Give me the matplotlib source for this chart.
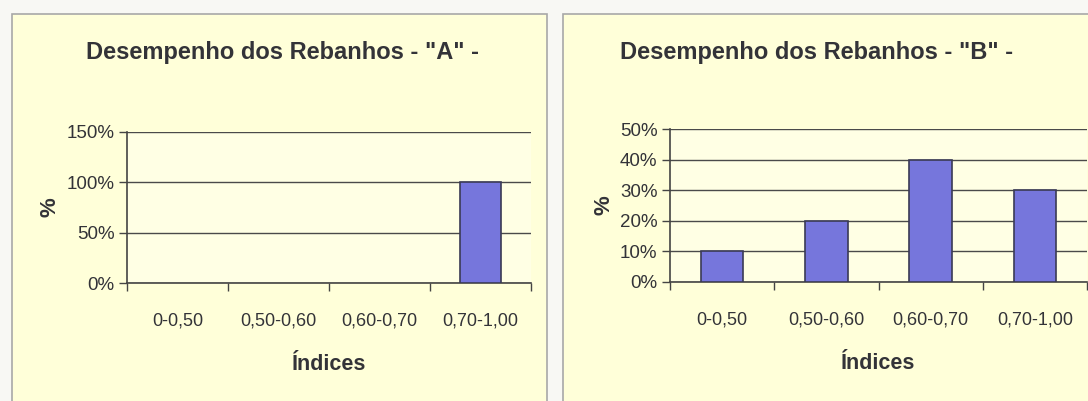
import matplotlib.pyplot as plt
from matplotlib.patches import Rectangle
from matplotlib.ticker import FuncFormatter, MultipleLocator

plt.rcParams['font.family'] = ['Liberation Sans Narrow', 'Liberation Sans', 'DejaVu Sans']

# Distribution of herds by index range (percent)
indices = ["0-0,50", "0,50-0,60", "0,60-0,70", "0,70-1,00"]
rebanho_a = [0, 0, 0, 100]
rebanho_b = [10, 20, 40, 30]

W, H = 1088, 401
PAGE = "#f8f8f4"
PANEL = "#ffffd9"
PLOT_BG = "#ffffe4"
BAR = "#7676dc"
TEXT = "#333338"

fig = plt.figure(figsize=(W / 100, H / 100), dpi=100)
fig.patch.set_facecolor(PAGE)


def px_box(x0, y0, x1, y1):
    # pixel box (top-left origin) -> figure fraction [left, bottom, width, height]
    return [x0 / W, 1 - y1 / H, (x1 - x0) / W, (y1 - y0) / H]


def chart(panel, plot, values, ymax, step, title, title_x):
    l, b, w, h = px_box(*panel)
    fig.patches.append(Rectangle((l, b), w, h, transform=fig.transFigure,
                                 facecolor=PANEL, edgecolor="#a8a8a8", lw=1.2, zorder=-5))

    ax = fig.add_axes(px_box(*plot))
    ax.set_facecolor(PLOT_BG)
    x = range(len(values))
    # empty classes get no outline
    edges = [1.2 if v else 0 for v in values]
    ax.bar(x, values, width=0.41, color=BAR, edgecolor="#3a3a55", linewidth=edges, zorder=3)

    ax.set_xlim(-0.5, len(values) - 0.5)
    ax.set_ylim(0, ymax)
    ax.yaxis.set_major_locator(MultipleLocator(step))
    ax.yaxis.set_major_formatter(FuncFormatter(lambda v, _: "%d%%" % round(v)))
    ax.grid(axis="y", color="#4a4a4a", lw=1.0, zorder=1)

    # category labels between boundary ticks
    ax.set_xticks([i + 0.5 for i in range(-1, len(values))])
    ax.set_xticklabels([])
    ax.set_xticks(list(x), minor=True)
    ax.set_xticklabels(indices, minor=True, fontsize=13, color=TEXT)
    ax.tick_params(axis="x", which="major", length=6, width=1, color="#444")
    ax.tick_params(axis="x", which="minor", length=0, pad=21)
    ax.tick_params(axis="y", length=6, width=1, color="#444", labelsize=13.5,
                   labelcolor=TEXT, pad=3)

    for s in ("top", "right"):
        ax.spines[s].set_visible(False)
    for s in ("left", "bottom"):
        ax.spines[s].set_color("#444")
        ax.spines[s].set_linewidth(1.2)

    ax.set_xlabel("Índices", fontsize=15.5, fontweight="bold", color=TEXT, labelpad=18)
    ax.set_ylabel("%", fontsize=16, fontweight="bold", color=TEXT, labelpad=4)

    fig.text(title_x / W, 1 - 53 / H, title, ha="center", va="center",
             fontsize=17, fontweight="bold", color=TEXT)
    return ax


chart((12, 14, 547, 420), (127, 132, 531, 283), rebanho_a, 150, 50,
      'Desempenho dos Rebanhos - "A" -', 283)
chart((563, 14, 1100, 420), (670, 129, 1087, 282), rebanho_b, 50, 10,
      'Desempenho dos Rebanhos - "B" -', 817)

fig.savefig("out.png", dpi=100, facecolor=fig.get_facecolor())
